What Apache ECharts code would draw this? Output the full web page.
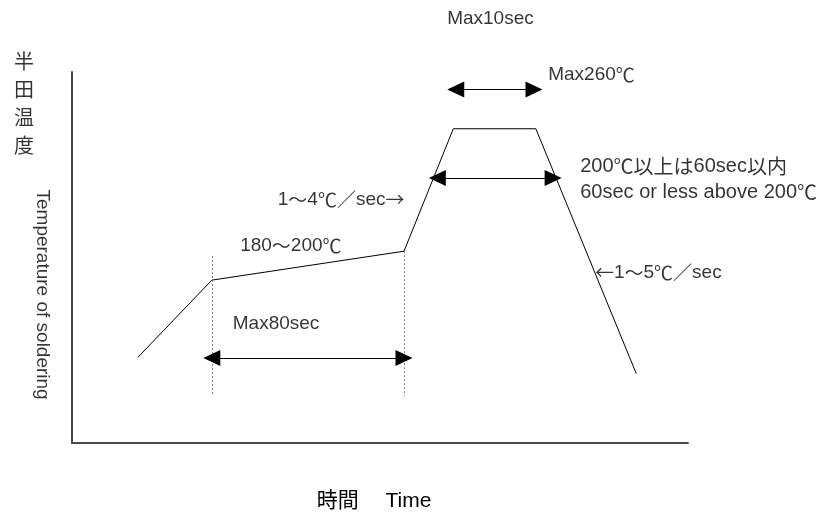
<!DOCTYPE html>
<html><head><meta charset="utf-8">
<script src="https://cdn.jsdelivr.net/npm/echarts@6/dist/echarts.min.js"></script>
<style>html,body{margin:0;padding:0;background:#fff}#c{width:819px;height:517px}</style>
</head><body><div id="c"></div>
<script>
// Reflow profile (abstract time / temperature units)
const profileTime = [10.7, 22.7, 53.9, 61.9, 75.3, 91.6];
const profileTemp = [23.1, 43.9, 51.7, 84.7, 84.7, 18.7];

// Dashed guide lines
const guideTime = [22.7, 53.9, 61.7, 75.2];
const guideFrom = [50.4, 51.7, 84.7, 84.7];
const guideTo   = [12.7, 12.7, 104.4, 104.4];

// Double arrows
const arrowFrom = [22.7, 62.3, 59.3];
const arrowTo   = [53.9, 75.0, 78.1];
const arrowTemp = [22.9, 95.3, 71.4];

// Annotations
const noteText = ['Max10sec', 'Max260℃', '200℃以上は60sec以内', '60sec or less above 200℃',
                  '1～4℃／sec→', '180～200℃', 'Max80sec', '←1～5℃／sec'];
const noteTime = [60.9, 77.3, 82.5, 82.5, 33.4, 27.3, 26.1, 84.9];
const noteTemp = [114.4, 99.2, 74.5, 67.5, 65.5, 53.2, 32.2, 46.0];
const noteSize = [19, 19, 20, 20, 19, 19, 19, 19];

const yTitleJa = '半田温度';
const yTitleEn = 'Temperature of soldering';
const xTitle = '時間　 Time';

const LATIN = '"Liberation Sans", "Noto Sans CJK JP", sans-serif';
const CJK = '"Noto Sans CJK JP", sans-serif';

const chart = echarts.init(document.getElementById('c'), null, {renderer: 'canvas'});

const guideLines = guideTime.map((t, i) => [{coord: [t, guideFrom[i]]}, {coord: [t, guideTo[i]]}]);
const arrowLines = arrowFrom.map((a, i) => [{coord: [a, arrowTemp[i]]}, {coord: [arrowTo[i], arrowTemp[i]]}]);

// ASCII runs in the Latin font, other runs (℃ ～ ／ → ← kanji) in the CJK font
const mixed = s => s.match(/[\x00-\x7F]+|[^\x00-\x7F]+/g)
  .map(r => (/^[\x00-\x7F]/.test(r) ? '{l|' : '{j|') + r + '}').join('');
const richFor = fs => ({
  l: {fontFamily: LATIN, fontSize: fs, color: '#000'},
  j: {fontFamily: CJK, fontSize: fs, color: '#000'}
});

const notes = noteText.map((s, i) => ({
  value: [noteTime[i], noteTemp[i]], name: s,
  label: {rich: richFor(noteSize[i])}
}));

chart.setOption({
  animation: false,
  backgroundColor: '#fff',
  grid: {left: 72, right: 131, top: 72, bottom: 60},
  xAxis: {
    type: 'value', min: 0, max: 100,
    axisLine: {show: true, lineStyle: {color: '#4a4a4a', width: 2}},
    axisTick: {show: false}, axisLabel: {show: false}, splitLine: {show: false},
    name: xTitle, nameLocation: 'middle', nameGap: 48,
    nameTextStyle: {color: '#000', fontSize: 21, fontFamily: LATIN, padding: [0, 12, 0, 0]}
  },
  yAxis: {
    type: 'value', min: 0, max: 100,
    axisLine: {show: true, lineStyle: {color: '#4a4a4a', width: 2}},
    axisTick: {show: false}, axisLabel: {show: false}, splitLine: {show: false}
  },
  series: [
    {
      type: 'line', data: profileTime.map((t, i) => [t, profileTemp[i]]),
      symbol: 'none', clip: false,
      lineStyle: {color: '#000', width: 1}
    },
    {
      type: 'line', data: [], symbol: 'none',
      markLine: {
        silent: true, symbol: ['none', 'none'], animation: false,
        label: {show: false},
        lineStyle: {color: '#808080', width: 1, type: [2, 2]},
        data: guideLines
      }
    },
    {
      type: 'line', data: [], symbol: 'none',
      markLine: {
        silent: true, symbol: ['triangle', 'triangle'], symbolSize: [16, 17], animation: false,
        label: {show: false},
        lineStyle: {color: '#000', width: 1, type: 'solid'},
        itemStyle: {color: '#000'},
        data: arrowLines
      }
    },
    {
      type: 'scatter', data: notes, symbolSize: 0, clip: false, silent: true,
      label: {show: true, position: 'right', distance: 0, formatter: p => mixed(p.name),
              color: '#000', fontSize: 19, fontFamily: LATIN}
    },
    {
      type: 'scatter', symbolSize: 0, clip: false, silent: true,
      data: [
        {value: [-7.8, 91.4], name: yTitleJa.split('').join('\n'),
         label: {lineHeight: 28, fontSize: 20, fontFamily: CJK}},
        {value: [-4.9, 40.0], name: yTitleEn, label: {rotate: -90}}
      ],
      label: {show: true, position: 'inside', formatter: p => p.name,
              color: '#000', fontSize: 19, fontFamily: LATIN}
    }
  ]
});
</script></body></html>
